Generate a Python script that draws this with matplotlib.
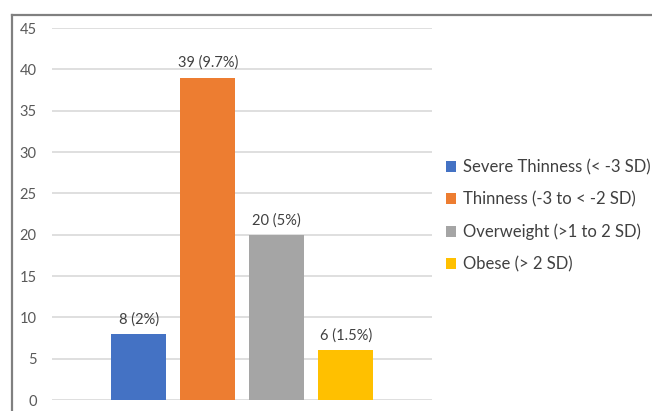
import matplotlib.pyplot as plt
from matplotlib.patches import Patch
from matplotlib.lines import Line2D

categories = ['Severe Thinness (< -3 SD)', 'Thinness (-3 to < -2 SD)',
              'Overweight (>1 to 2 SD)', 'Obese (> 2 SD)']
counts = [8, 39, 20, 6]
labels = ['8 (2%)', '39 (9.7%)', '20 (5%)', '6 (1.5%)']
colors = ['#4472C4', '#ED7D31', '#A5A5A5', '#FFC000']

plt.rcParams['font.family'] = ['Lato', 'DejaVu Sans']

fig = plt.figure(figsize=(6.52, 4.11), dpi=100)
ax = fig.add_axes([52/652, 11/411, 380/652, 372/411])

x = range(len(counts))
bars = ax.bar(x, counts, width=0.8, color=colors, zorder=3)
for b, lab in zip(bars, labels):
    ax.text(b.get_x() + b.get_width()/2, b.get_height() + 0.9, lab,
            ha='center', va='bottom', fontsize=10.5, color='#404040')

ax.set_xlim(-1.26, 4.25)
ax.set_ylim(0, 45)
ax.set_yticks(range(0, 46, 5))
ax.set_xticks([])
ax.yaxis.grid(True, color='#D9D9D9', linewidth=1.2, zorder=0)
for s in ax.spines.values():
    s.set_visible(False)
ax.tick_params(axis='y', length=0, pad=11, labelsize=10.5, labelcolor='#595959')

handles = [Patch(facecolor=c, edgecolor='none') for c in colors]
fig.legend(handles, categories, loc='upper left', bbox_to_anchor=(431/652, 1 - 144/411),
           frameon=False, fontsize=12, handlelength=0.6, handleheight=0.6,
           handletextpad=0.4, labelspacing=0.97, labelcolor='#404040')

# outer frame (top and left only)
fig.add_artist(Line2D([12/652, 1], [1 - 15/411, 1 - 15/411], color='#808080', lw=1.6))
fig.add_artist(Line2D([12/652, 12/652], [0, 1 - 15/411], color='#808080', lw=1.6))

plt.savefig('out.png', dpi=100)
